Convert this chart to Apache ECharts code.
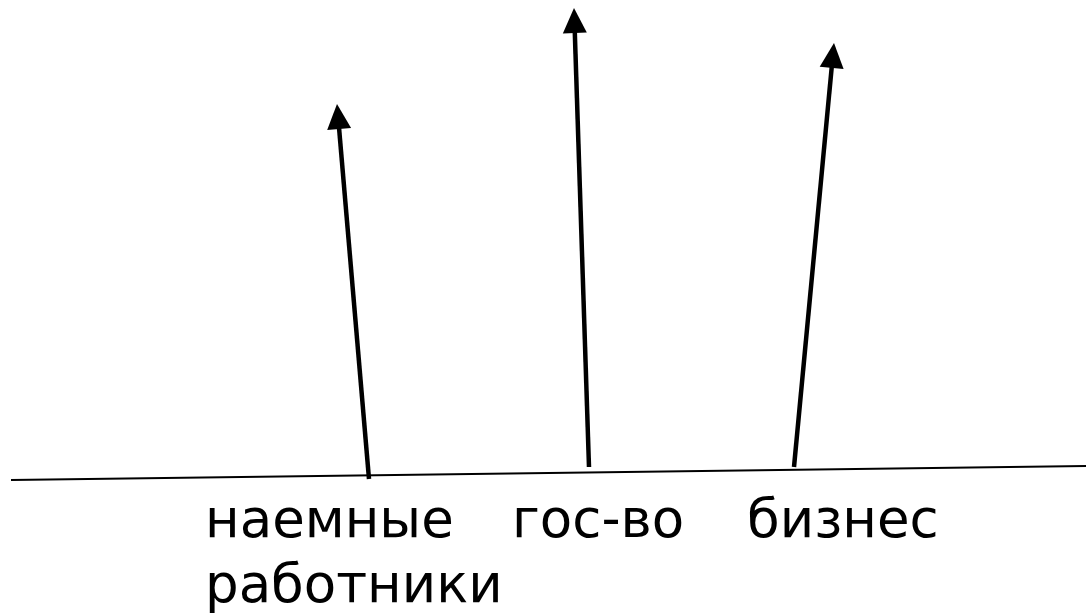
<!DOCTYPE html>
<html>
<head>
<meta charset="utf-8">
<script src="https://cdn.jsdelivr.net/npm/echarts@6/dist/echarts.min.js"></script>
<style>
html,body{margin:0;padding:0;background:#fff;}
#chart{width:1086px;height:616px;}
</style>
</head>
<body>
<div id="chart"></div>
<script>
// Categories (labels under the baseline)
var categories = ['наемные', 'гос-во', 'бизнес'];
var secondLine = ['работники', '', ''];
// Arrow geometry in diagram units (x from left, y from top)
var arrowBaseX = [369, 589, 794];
var arrowBaseY = [479, 467, 467];
var arrowTipX  = [337, 574, 834];
var arrowTipY  = [104, 8, 43];
// Baseline endpoints
var baselineX = [11, 1086];
var baselineY = [480, 466];

// Layout (not data)
var FONT = 'DejaVu Sans';
var FONT_SIZE = 53;
var labelLeft = [205, 512, 747];
var labelMidY = 523;
var line2MidY = 588;
var HEAD_LEN = 25, HEAD_W = 24, SHAFT_W = 4.5;

var chart = echarts.init(document.getElementById('chart'));

var arrowData = categories.map(function (c, i) {
  return [arrowBaseX[i], arrowBaseY[i], arrowTipX[i], arrowTipY[i]];
});
var baselineData = baselineX.map(function (x, i) { return [x, baselineY[i]]; });

var graphics = [];
categories.forEach(function (c, i) {
  graphics.push({
    type: 'text', x: labelLeft[i], y: labelMidY, silent: true,
    style: { text: c, font: FONT_SIZE + 'px "' + FONT + '"', fill: '#000', verticalAlign: 'middle' }
  });
  if (secondLine[i]) {
    graphics.push({
      type: 'text', x: labelLeft[i], y: line2MidY, silent: true,
      style: { text: secondLine[i], font: FONT_SIZE + 'px "' + FONT + '"', fill: '#000', verticalAlign: 'middle' }
    });
  }
});

chart.setOption({
  animation: false,
  backgroundColor: '#fff',
  grid: { left: 0, right: 0, top: 0, bottom: 0 },
  xAxis: { type: 'value', min: 0, max: 1086, show: false },
  yAxis: { type: 'value', min: 0, max: 616, inverse: true, show: false },
  graphic: graphics,
  series: [
    {
      type: 'line',
      data: baselineData,
      symbol: 'none',
      lineStyle: { color: '#000', width: 2 },
      silent: true,
      z: 1
    },
    {
      type: 'custom',
      data: arrowData,
      silent: true,
      z: 2,
      renderItem: function (params, api) {
        var b = api.coord([api.value(0), api.value(1)]);
        var t = api.coord([api.value(2), api.value(3)]);
        var dx = t[0] - b[0], dy = t[1] - b[1];
        var len = Math.sqrt(dx * dx + dy * dy);
        var ux = dx / len, uy = dy / len;
        var px = -uy, py = ux;
        var hb = [t[0] - ux * HEAD_LEN, t[1] - uy * HEAD_LEN];
        return {
          type: 'group',
          children: [
            {
              type: 'line',
              shape: { x1: b[0], y1: b[1], x2: hb[0] + ux * 2, y2: hb[1] + uy * 2 },
              style: { stroke: '#000', lineWidth: SHAFT_W }
            },
            {
              type: 'polygon',
              shape: { points: [
                t,
                [hb[0] + px * HEAD_W / 2, hb[1] + py * HEAD_W / 2],
                [hb[0] - px * HEAD_W / 2, hb[1] - py * HEAD_W / 2]
              ] },
              style: { fill: '#000' }
            }
          ]
        };
      }
    }
  ]
});
</script>
</body>
</html>
